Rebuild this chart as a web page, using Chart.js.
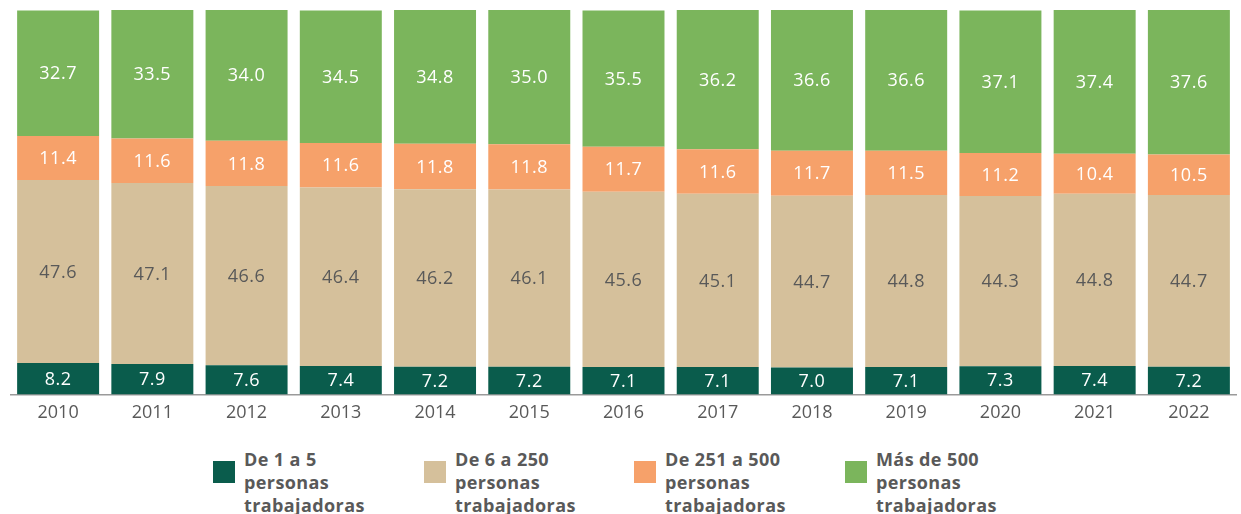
<!DOCTYPE html>
<html>
<head>
<meta charset="utf-8">
<script src="https://cdn.jsdelivr.net/npm/chart.js@4.4.0/dist/chart.umd.min.js"></script>
<style>
    body { margin: 0; background: #fff; width: 1241px; height: 514px; overflow: hidden; font-family: 'Open Sans', sans-serif; }
    #wrap { position: absolute; left: 0; top: 0; width: 1241px; height: 439px; }
    .leg { position: absolute; top: 448px; font-weight: 700; font-size: 18px; letter-spacing: 0.4px; line-height: 23px; color: #595959; }
    .leg i { position: absolute; left: -31px; top: 13px; width: 22px; height: 22px; }
</style>
</head>
<body>
<div id="wrap"><canvas id="chart"></canvas></div>
<div id="legend"></div>
<script>
// 年份
const years = ['2010', '2011', '2012', '2013', '2014', '2015', '2016', '2017', '2018', '2019', '2020', '2021', '2022'];

// 各规模占比 (%)
const de1a5 = [8.2, 7.9, 7.6, 7.4, 7.2, 7.2, 7.1, 7.1, 7.0, 7.1, 7.3, 7.4, 7.2];
const de6a250 = [47.6, 47.1, 46.6, 46.4, 46.2, 46.1, 45.6, 45.1, 44.7, 44.8, 44.3, 44.8, 44.7];
const de251a500 = [11.4, 11.6, 11.8, 11.6, 11.8, 11.8, 11.7, 11.6, 11.7, 11.5, 11.2, 10.4, 10.5];
const mas500 = [32.7, 33.5, 34.0, 34.5, 34.8, 35.0, 35.5, 36.2, 36.6, 36.6, 37.1, 37.4, 37.6];

const seriesNames = [
    ['De 1 a 5', 'personas', 'trabajadoras'],
    ['De 6 a 250', 'personas', 'trabajadoras'],
    ['De 251 a 500', 'personas', 'trabajadoras'],
    ['Más de 500', 'personas', 'trabajadoras']
];
const colors = ['#0a5c4c', '#d5c09b', '#f6a16a', '#7bb55c'];

// 数值标签
const valueLabels = {
    id: 'valueLabels',
    afterDatasetsDraw(chart) {
        const ctx = chart.ctx;
        ctx.save();
        ctx.font = '18px "Open Sans"';
        ctx.letterSpacing = '0.5px';
        ctx.textAlign = 'center';
        ctx.textBaseline = 'middle';
        chart.data.datasets.forEach((ds, i) => {
            const meta = chart.getDatasetMeta(i);
            meta.data.forEach((bar, j) => {
                const c = bar.getCenterPoint();
                ctx.fillStyle = i === 1 ? '#595959' : '#fff';
                ctx.fillText(ds.data[j].toFixed(1), c.x, c.y + 1);
            });
        });
        ctx.restore();
    }
};

const ctx = document.getElementById('chart').getContext('2d');
new Chart(ctx, {
    type: 'bar',
    data: {
        labels: years,
        datasets: [de1a5, de6a250, de251a500, mas500].map((d, i) => ({
            label: seriesNames[i].join(' '),
            data: d,
            backgroundColor: colors[i],
            barPercentage: 0.87,
            categoryPercentage: 1
        }))
    },
    options: {
        responsive: true,
        maintainAspectRatio: false,
        animation: false,
        layout: { padding: { left: 11, right: 5, top: 10, bottom: 7 } },
        plugins: { legend: { display: false }, tooltip: { enabled: false } },
        scales: {
            x: {
                stacked: true,
                grid: { display: false, drawTicks: false },
                border: { display: true, color: '#9a9a9a', width: 1.5 },
                ticks: { color: '#595959', font: { family: 'Open Sans', size: 18 }, padding: 8 }
            },
            y: { stacked: true, display: false, min: 0, max: 100 }
        }
    },
    plugins: [valueLabels]
});

// 图例
const lefts = [244, 455, 665, 876];
document.getElementById('legend').innerHTML = seriesNames.map((n, i) =>
    `<div class="leg" style="left:${lefts[i]}px"><i style="background:${colors[i]}"></i>${n.join('<br>')}</div>`
).join('');
</script>
</body>
</html>
